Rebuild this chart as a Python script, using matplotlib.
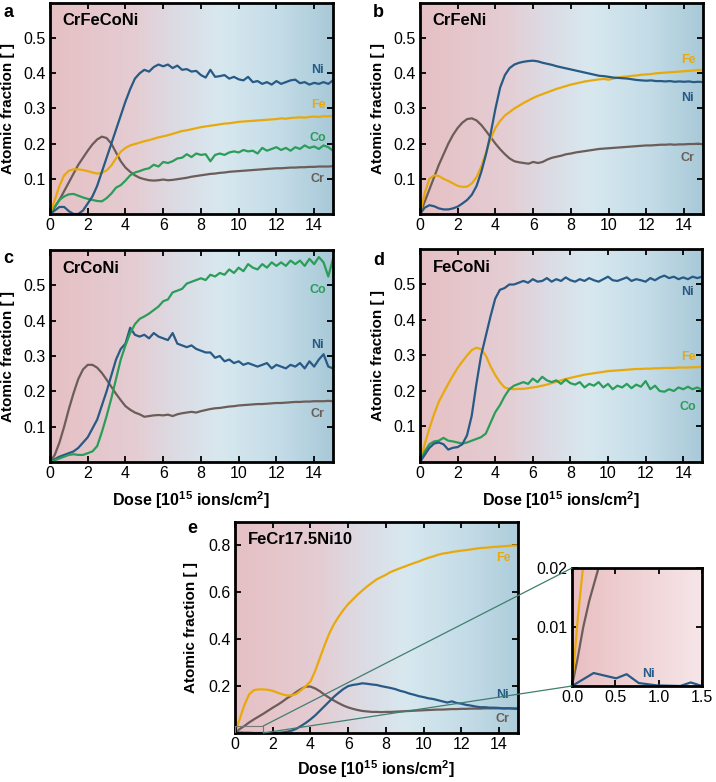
import numpy as np
import matplotlib
matplotlib.use("Agg")
import matplotlib.pyplot as plt
from matplotlib.colors import LinearSegmentedColormap
from matplotlib.patches import Rectangle, ConnectionPatch

plt.rcParams['font.family'] = ['Liberation Sans', 'DejaVu Sans']
plt.rcParams['mathtext.fontset'] = 'custom'
plt.rcParams['mathtext.rm'] = 'Liberation Sans'
plt.rcParams['mathtext.bf'] = 'Liberation Sans:bold'

# dose grid (10^15 ions/cm^2), step 0.25
dose = np.arange(0, 15.001, 0.25)

# --- a: CrFeCoNi
a_ni = [0.0, 0.01, 0.02, 0.02, 0.008, 0.0, 0.0, 0.01, 0.03, 0.05, 0.08, 0.12, 0.16, 0.2, 0.24, 0.28,
        0.32, 0.355, 0.385, 0.4, 0.41, 0.405, 0.418, 0.425, 0.42, 0.425, 0.415, 0.422, 0.41, 0.412,
        0.405, 0.407, 0.395, 0.388, 0.41, 0.39, 0.392, 0.395, 0.385, 0.39, 0.383, 0.38, 0.39, 0.375,
        0.378, 0.37, 0.375, 0.368, 0.378, 0.37, 0.375, 0.38, 0.382, 0.372, 0.375, 0.368, 0.373, 0.37,
        0.375, 0.37, 0.38]
a_fe = [0.0, 0.04, 0.08, 0.11, 0.123, 0.127, 0.127, 0.125, 0.122, 0.118, 0.115, 0.117, 0.124, 0.138,
        0.158, 0.177, 0.188, 0.195, 0.199, 0.203, 0.207, 0.21, 0.214, 0.218, 0.221, 0.224, 0.228, 0.232,
        0.236, 0.238, 0.241, 0.244, 0.247, 0.249, 0.251, 0.253, 0.255, 0.257, 0.258, 0.26, 0.262, 0.263,
        0.264, 0.265, 0.266, 0.267, 0.268, 0.269, 0.27, 0.272, 0.271, 0.273, 0.274, 0.275, 0.274, 0.276,
        0.277, 0.276, 0.278, 0.278, 0.279]
a_co = [0.0, 0.02, 0.04, 0.05, 0.056, 0.057, 0.052, 0.047, 0.043, 0.04, 0.037, 0.036, 0.045, 0.058,
        0.075, 0.082, 0.095, 0.11, 0.118, 0.122, 0.127, 0.13, 0.14, 0.135, 0.148, 0.145, 0.15, 0.158,
        0.16, 0.17, 0.162, 0.172, 0.168, 0.17, 0.15, 0.168, 0.172, 0.168, 0.175, 0.178, 0.175, 0.182,
        0.178, 0.18, 0.172, 0.188, 0.18, 0.185, 0.19, 0.182, 0.188, 0.18, 0.19, 0.185, 0.195, 0.188,
        0.192, 0.185, 0.195, 0.19, 0.18]
a_cr = [0.0, 0.02, 0.04, 0.065, 0.09, 0.115, 0.14, 0.16, 0.18, 0.198, 0.212, 0.22, 0.216, 0.2, 0.175,
        0.15, 0.132, 0.12, 0.11, 0.103, 0.099, 0.096, 0.095, 0.096, 0.098, 0.096, 0.097, 0.099, 0.101,
        0.103, 0.106, 0.108, 0.11, 0.112, 0.114, 0.115, 0.117, 0.118, 0.12, 0.121, 0.122, 0.123, 0.124,
        0.125, 0.126, 0.127, 0.128, 0.129, 0.13, 0.13, 0.131, 0.132, 0.132, 0.133, 0.133, 0.134, 0.134,
        0.135, 0.135, 0.135, 0.136]

# --- b: CrFeNi
b_ni = [0.0, 0.018, 0.025, 0.022, 0.016, 0.013, 0.013, 0.016, 0.021, 0.03, 0.04, 0.055, 0.08, 0.12,
        0.17, 0.23, 0.3, 0.36, 0.395, 0.415, 0.425, 0.43, 0.433, 0.435, 0.436, 0.434, 0.43, 0.427,
        0.424, 0.42, 0.417, 0.414, 0.411, 0.408, 0.405, 0.402, 0.399, 0.396, 0.393, 0.392, 0.39, 0.388,
        0.387, 0.386, 0.385, 0.383, 0.381, 0.38, 0.379, 0.38, 0.378, 0.378, 0.377, 0.378, 0.376, 0.377,
        0.376, 0.377, 0.375, 0.376, 0.375]
b_fe = [0.0, 0.06, 0.1, 0.11, 0.108, 0.1, 0.094, 0.087, 0.08, 0.077, 0.078, 0.087, 0.105, 0.135, 0.175,
        0.215, 0.245, 0.265, 0.28, 0.29, 0.3, 0.308, 0.316, 0.323, 0.33, 0.336, 0.341, 0.346, 0.351,
        0.356, 0.36, 0.364, 0.368, 0.371, 0.374, 0.377, 0.379, 0.381, 0.383, 0.384, 0.382, 0.385, 0.388,
        0.39, 0.391, 0.393, 0.394, 0.396, 0.397, 0.398, 0.4, 0.401, 0.402, 0.403, 0.404, 0.405, 0.406,
        0.407, 0.408, 0.41, 0.409]
b_cr = [0.0, 0.035, 0.07, 0.105, 0.14, 0.17, 0.2, 0.225, 0.245, 0.26, 0.27, 0.272, 0.266, 0.253, 0.236,
        0.218, 0.2, 0.184, 0.17, 0.158, 0.15, 0.147, 0.145, 0.143, 0.148, 0.145, 0.148, 0.155, 0.16,
        0.163, 0.166, 0.17, 0.172, 0.175, 0.177, 0.179, 0.181, 0.183, 0.185, 0.186, 0.187, 0.188, 0.189,
        0.19, 0.191, 0.192, 0.193, 0.194, 0.195, 0.195, 0.196, 0.197, 0.197, 0.198, 0.197, 0.198, 0.198,
        0.199, 0.199, 0.2, 0.198]

# --- c: CrCoNi
c_co = [0.0, 0.005, 0.01, 0.015, 0.02, 0.022, 0.02, 0.02, 0.025, 0.03, 0.045, 0.085, 0.13, 0.18, 0.235,
        0.29, 0.33, 0.365, 0.39, 0.405, 0.412, 0.42, 0.43, 0.44, 0.455, 0.46, 0.48, 0.485, 0.49, 0.505,
        0.51, 0.515, 0.52, 0.515, 0.53, 0.525, 0.535, 0.53, 0.545, 0.535, 0.55, 0.54, 0.56, 0.55, 0.545,
        0.56, 0.55, 0.565, 0.555, 0.565, 0.555, 0.57, 0.56, 0.57, 0.555, 0.575, 0.56, 0.58, 0.565, 0.525,
        0.575]
c_ni = [0.0, 0.008, 0.015, 0.02, 0.025, 0.03, 0.04, 0.055, 0.07, 0.095, 0.12, 0.16, 0.2, 0.245, 0.29,
        0.32, 0.335, 0.38, 0.36, 0.355, 0.36, 0.35, 0.365, 0.355, 0.35, 0.345, 0.365, 0.335, 0.33, 0.325,
        0.33, 0.32, 0.315, 0.31, 0.31, 0.295, 0.3, 0.285, 0.29, 0.28, 0.285, 0.275, 0.28, 0.275, 0.27,
        0.275, 0.28, 0.265, 0.275, 0.27, 0.265, 0.275, 0.27, 0.28, 0.265, 0.285, 0.27, 0.29, 0.305, 0.27,
        0.265]
c_cr = [0.0, 0.02, 0.055, 0.1, 0.15, 0.195, 0.235, 0.262, 0.275, 0.275, 0.267, 0.252, 0.233, 0.213,
        0.193, 0.175, 0.158, 0.148, 0.14, 0.135, 0.128, 0.13, 0.132, 0.133, 0.132, 0.134, 0.13, 0.135,
        0.138, 0.14, 0.142, 0.14, 0.144, 0.147, 0.15, 0.152, 0.153, 0.155, 0.157, 0.158, 0.16, 0.161,
        0.162, 0.163, 0.164, 0.164, 0.165, 0.166, 0.167, 0.167, 0.168, 0.169, 0.17, 0.17, 0.171, 0.171,
        0.172, 0.172, 0.172, 0.173, 0.172]

# --- d: FeCoNi
d_ni = [0.0, 0.02, 0.04, 0.052, 0.055, 0.05, 0.035, 0.04, 0.042, 0.05, 0.075, 0.13, 0.22, 0.3, 0.355,
        0.41, 0.46, 0.485, 0.49, 0.5, 0.5, 0.505, 0.51, 0.505, 0.515, 0.508, 0.51, 0.518, 0.508, 0.515,
        0.51, 0.52, 0.512, 0.508, 0.515, 0.51, 0.518, 0.512, 0.508, 0.515, 0.522, 0.512, 0.51, 0.515,
        0.52, 0.51, 0.515, 0.512, 0.508, 0.518, 0.512, 0.52, 0.525, 0.518, 0.522, 0.515, 0.52, 0.515,
        0.522, 0.518, 0.522]
d_fe = [0.0, 0.05, 0.095, 0.135, 0.17, 0.195, 0.22, 0.243, 0.265, 0.283, 0.3, 0.315, 0.322, 0.318, 0.3,
        0.27, 0.245, 0.225, 0.21, 0.206, 0.205, 0.206, 0.206, 0.208, 0.21, 0.212, 0.215, 0.218, 0.222,
        0.226, 0.23, 0.234, 0.237, 0.24, 0.243, 0.246, 0.248, 0.25, 0.252, 0.254, 0.256, 0.257, 0.258,
        0.259, 0.26, 0.261, 0.262, 0.262, 0.263, 0.263, 0.264, 0.264, 0.265, 0.265, 0.265, 0.266, 0.266,
        0.266, 0.267, 0.267, 0.268]
d_co = [0.0, 0.03, 0.05, 0.058, 0.06, 0.068, 0.06, 0.058, 0.055, 0.052, 0.055, 0.06, 0.065, 0.07, 0.08,
        0.11, 0.14, 0.16, 0.185, 0.205, 0.215, 0.22, 0.225, 0.22, 0.235, 0.225, 0.24, 0.23, 0.225, 0.23,
        0.22, 0.232, 0.222, 0.218, 0.225, 0.21, 0.22, 0.215, 0.225, 0.21, 0.22, 0.205, 0.215, 0.21, 0.22,
        0.208, 0.218, 0.212, 0.228, 0.205, 0.215, 0.2, 0.198, 0.205, 0.2, 0.21, 0.205, 0.212, 0.205, 0.21,
        0.203]

# --- e: FeCr17.5Ni10
e_fe = [0.0, 0.06, 0.12, 0.165, 0.183, 0.186, 0.186, 0.184, 0.18, 0.172, 0.165, 0.16, 0.16, 0.167,
        0.182, 0.2, 0.22, 0.265, 0.32, 0.375, 0.425, 0.465, 0.497, 0.525, 0.55, 0.57, 0.59, 0.608, 0.625,
        0.64, 0.655, 0.665, 0.675, 0.687, 0.695, 0.703, 0.71, 0.718, 0.725, 0.732, 0.74, 0.747, 0.753,
        0.76, 0.765, 0.768, 0.772, 0.775, 0.778, 0.78, 0.783, 0.786, 0.789, 0.79, 0.792, 0.794, 0.795,
        0.797, 0.798, 0.8, 0.8]
e_cr = [0.0, 0.017, 0.03, 0.045, 0.058, 0.07, 0.082, 0.095, 0.108, 0.12, 0.133, 0.148, 0.16, 0.175,
        0.188, 0.198, 0.198, 0.19, 0.178, 0.163, 0.15, 0.138, 0.127, 0.117, 0.109, 0.103, 0.098, 0.094,
        0.092, 0.09, 0.09, 0.089, 0.09, 0.09, 0.091, 0.092, 0.093, 0.094, 0.095, 0.096, 0.097, 0.098,
        0.099, 0.1, 0.1, 0.101, 0.102, 0.102, 0.103, 0.103, 0.104, 0.104, 0.104, 0.105, 0.105, 0.105,
        0.105, 0.105, 0.106, 0.105, 0.105]
e_ni = [0.0, 0.002, 0.001, 0.001, 0.0, 0.0, 0.0, 0.0, 0.0, 0.0, 0.002, 0.005, 0.01, 0.018, 0.03, 0.043,
        0.058, 0.075, 0.095, 0.115, 0.135, 0.155, 0.172, 0.188, 0.2, 0.205, 0.208, 0.212, 0.21, 0.207,
        0.205, 0.2, 0.196, 0.192, 0.187, 0.18, 0.175, 0.168, 0.163, 0.157, 0.153, 0.148, 0.145, 0.14,
        0.135, 0.13, 0.135, 0.128, 0.125, 0.12, 0.117, 0.113, 0.11, 0.11, 0.108, 0.108, 0.107, 0.105,
        0.105, 0.104, 0.103]

# inset of e (first 1.5 of dose, low fractions)
ins_fe_x = [0.0, 0.03, 0.07, 0.126]
ins_fe = [0.0, 0.005, 0.012, 0.02]
ins_cr_x = [0.0, 0.06, 0.13, 0.2, 0.306]
ins_cr = [0.0, 0.0043, 0.01, 0.0145, 0.02]
ins_ni_x = [0.0, 0.25, 0.51, 0.63, 0.77, 0.98, 1.25, 1.37, 1.5]
ins_ni = [0.0, 0.0022, 0.0013, 0.002, 0.0005, 0.0001, 0.0, 0.0006, 0.0]

NI = '#275a85'
FE = '#e8a90c'
CO = '#2a9e58'
CR = '#6c5d58'

bg_cmap = LinearSegmentedColormap.from_list('bg', [
    (0.0, '#e6c0c4'), (0.3, '#e4cdd3'), (0.45, '#dcdbe4'), (0.6, '#d8e8ef'),
    (0.8, '#c5dde8'), (1.0, '#a9c9d8')])
ins_cmap = LinearSegmentedColormap.from_list('ins', ['#e9bfc2', '#f6e6e8'])

fig = plt.figure(figsize=(7.16, 7.82), dpi=100)
W, H = 716, 782


def add_ax(left, top, right, bottom):
    return fig.add_axes([left / W, 1 - bottom / H, (right - left) / W, (bottom - top) / H])


def style(ax, ymax, yticks, xlabel=False, ylab_x=-0.124):
    grad = np.linspace(0, 1, 256)[None, :]
    ax.imshow(grad, extent=[0, 15, 0, ymax], aspect='auto', cmap=bg_cmap, zorder=0)
    ax.set_xlim(0, 15)
    ax.set_ylim(0, ymax)
    ax.set_xticks(range(0, 15, 2))
    ax.set_yticks(yticks)
    ax.tick_params(direction='in', top=True, right=True, length=4, width=1.3,
                   labelsize=11.5, pad=3)
    for s in ax.spines.values():
        s.set_linewidth(2)
    ax.set_ylabel('Atomic fraction [ ]', fontsize=11, fontweight='bold')
    ax.yaxis.set_label_coords(ylab_x, 0.5)
    if xlabel:
        ax.set_xlabel(r'Dose [10$^{\mathbf{15}}$ ions/cm$^{\mathbf{2}}$]', fontsize=11.5,
                      fontweight='bold')
        ax.xaxis.set_label_coords(0.5, -0.13)


def lab(ax, x, y, s, c):
    ax.text(x, y, s, color=c, fontsize=9, fontweight='bold', ha='center', va='center')


def title(ax, s):
    ax.text(0.045, 0.915, s, transform=ax.transAxes, fontsize=12, fontweight='bold',
            va='center', ha='left')


lw = 1.6
yt = [0.1, 0.2, 0.3, 0.4, 0.5]

ax = add_ax(50, 3, 333, 214)
style(ax, 0.6, yt)
ax.plot(dose, a_cr, color=CR, lw=lw)
ax.plot(dose, a_co, color=CO, lw=lw)
ax.plot(dose, a_fe, color=FE, lw=lw)
ax.plot(dose, a_ni, color=NI, lw=lw)
title(ax, 'CrFeCoNi')
lab(ax, 14.2, 0.41, 'Ni', NI)
lab(ax, 14.2, 0.31, 'Fe', FE)
lab(ax, 14.2, 0.215, 'Co', CO)
lab(ax, 14.2, 0.10, 'Cr', CR)

ax = add_ax(420, 3, 703, 214)
style(ax, 0.6, yt)
ax.plot(dose, b_cr, color=CR, lw=lw)
ax.plot(dose, b_fe, color=FE, lw=lw)
ax.plot(dose, b_ni, color=NI, lw=lw)
title(ax, 'CrFeNi')
lab(ax, 14.2, 0.438, 'Fe', FE)
lab(ax, 14.2, 0.33, 'Ni', NI)
lab(ax, 14.2, 0.158, 'Cr', CR)

ax = add_ax(50, 250, 333, 462)
style(ax, 0.6, yt, xlabel=True)
ax.plot(dose, c_cr, color=CR, lw=lw)
ax.plot(dose, c_ni, color=NI, lw=lw)
ax.plot(dose, c_co, color=CO, lw=lw)
title(ax, 'CrCoNi')
lab(ax, 14.2, 0.488, 'Co', CO)
lab(ax, 14.2, 0.33, 'Ni', NI)
lab(ax, 14.2, 0.135, 'Cr', CR)

ax = add_ax(420, 249, 702, 462)
style(ax, 0.6, yt, xlabel=True)
ax.plot(dose, d_fe, color=FE, lw=lw)
ax.plot(dose, d_co, color=CO, lw=lw)
ax.plot(dose, d_ni, color=NI, lw=lw)
title(ax, 'FeCoNi')
lab(ax, 14.25, 0.478, 'Ni', NI)
lab(ax, 14.25, 0.295, 'Fe', FE)
lab(ax, 14.25, 0.156, 'Co', CO)

ax_e = add_ax(235, 522, 518, 733)
style(ax_e, 0.9, [0.2, 0.4, 0.6, 0.8], xlabel=True, ylab_x=-0.131)
ax_e.xaxis.set_label_coords(0.5, -0.12)
ax_e.imshow(np.linspace(0.78, 1.0, 64)[None, :], extent=[11.2, 15, 0, 0.9], aspect='auto',
            cmap=bg_cmap, zorder=0.5, vmin=0, vmax=1.04)
ax_e.set_xlim(0, 15)
ax_e.set_ylim(0, 0.9)
ax_e.plot(dose, e_cr, color=CR, lw=lw)
ax_e.plot(dose, e_ni, color=NI, lw=lw)
ax_e.plot(dose, e_fe, color=FE, lw=lw)
title(ax_e, 'FeCr17.5Ni10')
lab(ax_e, 14.2, 0.745, 'Fe', FE)
lab(ax_e, 14.2, 0.162, 'Ni', NI)
lab(ax_e, 14.2, 0.059, 'Cr', CR)
ax_e.add_patch(Rectangle((0, 0), 1.5, 0.03, fill=False, edgecolor='#777777', lw=0.8, zorder=3))

ax_in = add_ax(572, 568, 702, 686)
ax_in.imshow(np.linspace(0, 1, 256)[None, :], extent=[0, 1.5, 0, 0.02], aspect='auto',
             cmap=ins_cmap, zorder=0)
ax_in.set_xlim(0, 1.5)
ax_in.set_ylim(0, 0.02)
ax_in.set_xticks([0, 0.5, 1.0, 1.5])
ax_in.set_xticklabels(['0.0', '0.5', '1.0', '1.5'])
ax_in.set_yticks([0.01, 0.02])
ax_in.set_yticklabels(['0.01', '0.02'])
ax_in.tick_params(direction='in', top=True, right=True, length=4, width=1.3, labelsize=11.5, pad=3)
for s in ax_in.spines.values():
    s.set_linewidth(2)
ax_in.plot(ins_cr_x, ins_cr, color=CR, lw=lw)
ax_in.plot(ins_fe_x, ins_fe, color=FE, lw=lw)
ax_in.plot(ins_ni_x, ins_ni, color=NI, lw=lw, clip_on=False)
ax_in.text(0.88, 0.0021, 'Ni', color=NI, fontsize=9, fontweight='bold', ha='center', va='center')

for pa, pb in [((1.5, 0.03), (0, 0.02)), ((1.5, 0.0), (0, 0.0))]:
    con = ConnectionPatch(xyA=pa, coordsA=ax_e.transData, xyB=pb, coordsB=ax_in.transData,
                          color='#3f7f70', lw=0.9)
    fig.add_artist(con)

for s, x, y in [('a', 3, 17), ('b', 373, 17), ('c', 3, 263), ('d', 373, 265), ('e', 187, 533)]:
    fig.text(x / W, 1 - y / H, s, fontsize=13, fontweight='bold', va='baseline', ha='left')

fig.savefig('out.png', dpi=100)
